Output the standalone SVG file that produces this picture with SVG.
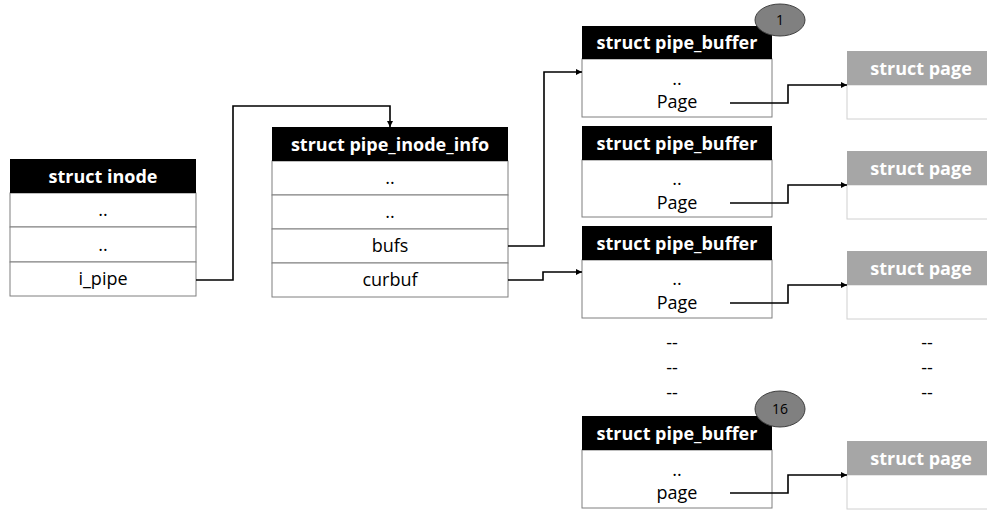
<svg xmlns="http://www.w3.org/2000/svg" width="987" height="512" viewBox="0 0 987 512">
<style>
.hdr{fill:#000}
.hdrg{fill:#a6a6a6}
.cell{fill:#fff;stroke:#7f7f7f;stroke-width:1}
.pcell{fill:#fff;stroke:#d0d0d0;stroke-width:1}
.ht{font-family:"Open Sans","Liberation Sans",sans-serif;font-weight:bold;font-size:18px;fill:#fff;text-anchor:middle}
.t{font-family:"Open Sans","Liberation Sans",sans-serif;font-size:18px;fill:#000;text-anchor:middle}
.conn{fill:none;stroke:#000;stroke-width:1.6}
.badge{fill:#808080;stroke:#404040;stroke-width:1}
.bt{font-family:"Open Sans","Liberation Sans",sans-serif;font-size:14px;fill:#000;text-anchor:middle}
</style>
<defs>
<marker id="arr" viewBox="0 0 10 10" refX="10" refY="5" markerWidth="6" markerHeight="6" orient="auto" markerUnits="userSpaceOnUse">
<path d="M0,0 L10,5 L0,10 z" fill="#000"/>
</marker>
</defs>

<g id="inode">
<rect class="cell" x="10" y="193" width="186" height="34"/>
<rect class="cell" x="10" y="227" width="186" height="35"/>
<rect class="cell" x="10" y="262" width="186" height="34"/>
<rect class="hdr" x="10" y="159" width="186" height="34"/>
<text class="ht" x="103" y="183">struct inode</text>
<text class="t" x="103" y="216">..</text>
<text class="t" x="103" y="251">..</text>
<text class="t" x="103" y="285">i_pipe</text>
</g>

<g id="pipe_inode_info">
<rect class="cell" x="272" y="161" width="236" height="34"/>
<rect class="cell" x="272" y="195" width="236" height="34"/>
<rect class="cell" x="272" y="229" width="236" height="34"/>
<rect class="cell" x="272" y="263" width="236" height="34"/>
<rect class="hdr" x="272" y="127" width="236" height="34"/>
<text class="ht" x="390" y="151">struct pipe_inode_info</text>
<text class="t" x="390" y="184">..</text>
<text class="t" x="390" y="218">..</text>
<text class="t" x="390" y="252">bufs</text>
<text class="t" x="390" y="286">curbuf</text>
</g>

<g id="pipe_buffer_1">
<rect class="cell" x="582" y="59" width="190" height="58"/>
<rect class="hdr" x="582" y="26" width="190" height="33"/>
<text class="ht" x="677" y="49">struct pipe_buffer</text>
<text class="t" x="677" y="85">..</text>
<text class="t" x="677" y="108">Page</text>
</g>
<g id="badge_1">
<ellipse class="badge" cx="780" cy="20" rx="25" ry="16"/>
<text class="bt" x="780" y="25">1</text>
</g>

<g id="pipe_buffer_2">
<rect class="cell" x="582" y="160" width="190" height="57"/>
<rect class="hdr" x="582" y="126" width="190" height="34"/>
<text class="ht" x="677" y="150">struct pipe_buffer</text>
<text class="t" x="677" y="185">..</text>
<text class="t" x="677" y="209">Page</text>
</g>

<g id="pipe_buffer_3">
<rect class="cell" x="582" y="260" width="190" height="58"/>
<rect class="hdr" x="582" y="226" width="190" height="34"/>
<text class="ht" x="677" y="250">struct pipe_buffer</text>
<text class="t" x="677" y="285">..</text>
<text class="t" x="677" y="309">Page</text>
</g>

<g id="pipe_buffer_16">
<rect class="cell" x="582" y="450" width="190" height="58"/>
<rect class="hdr" x="582" y="416" width="190" height="34"/>
<text class="ht" x="677" y="440">struct pipe_buffer</text>
<text class="t" x="677" y="476">..</text>
<text class="t" x="677" y="499">page</text>
</g>
<g id="badge_16">
<ellipse class="badge" cx="780" cy="409" rx="25" ry="18"/>
<text class="bt" x="780" y="414">16</text>
</g>

<g id="page_1">
<rect class="pcell" x="847" y="85" width="145" height="34"/>
<rect class="hdrg" x="847" y="51" width="145" height="34"/>
<text class="ht" x="921" y="75">struct page</text>
</g>
<g id="page_2">
<rect class="pcell" x="847" y="185" width="145" height="34"/>
<rect class="hdrg" x="847" y="151" width="145" height="34"/>
<text class="ht" x="921" y="175">struct page</text>
</g>
<g id="page_3">
<rect class="pcell" x="847" y="285" width="145" height="34"/>
<rect class="hdrg" x="847" y="251" width="145" height="34"/>
<text class="ht" x="921" y="275">struct page</text>
</g>
<g id="page_16">
<rect class="pcell" x="847" y="475" width="145" height="34"/>
<rect class="hdrg" x="847" y="441" width="145" height="34"/>
<text class="ht" x="921" y="465">struct page</text>
</g>

<g id="ellipsis">
<text class="t" x="672" y="349">--</text>
<text class="t" x="672" y="374">--</text>
<text class="t" x="672" y="399">--</text>
<text class="t" x="927" y="349">--</text>
<text class="t" x="927" y="374">--</text>
<text class="t" x="927" y="399">--</text>
</g>

<g id="connectors">
<path class="conn" d="M196,280 H233 V106 H390 V127" marker-end="url(#arr)"/>
<path class="conn" d="M508,246 H544 V72 H582" marker-end="url(#arr)"/>
<path class="conn" d="M508,280 H543 V272 H582" marker-end="url(#arr)"/>
<path class="conn" d="M730,103 H788 V85 H847" marker-end="url(#arr)"/>
<path class="conn" d="M730,203 H788 V185 H847" marker-end="url(#arr)"/>
<path class="conn" d="M730,303 H788 V285 H847" marker-end="url(#arr)"/>
<path class="conn" d="M730,493 H788 V475 H847" marker-end="url(#arr)"/>
</g>
</svg>
